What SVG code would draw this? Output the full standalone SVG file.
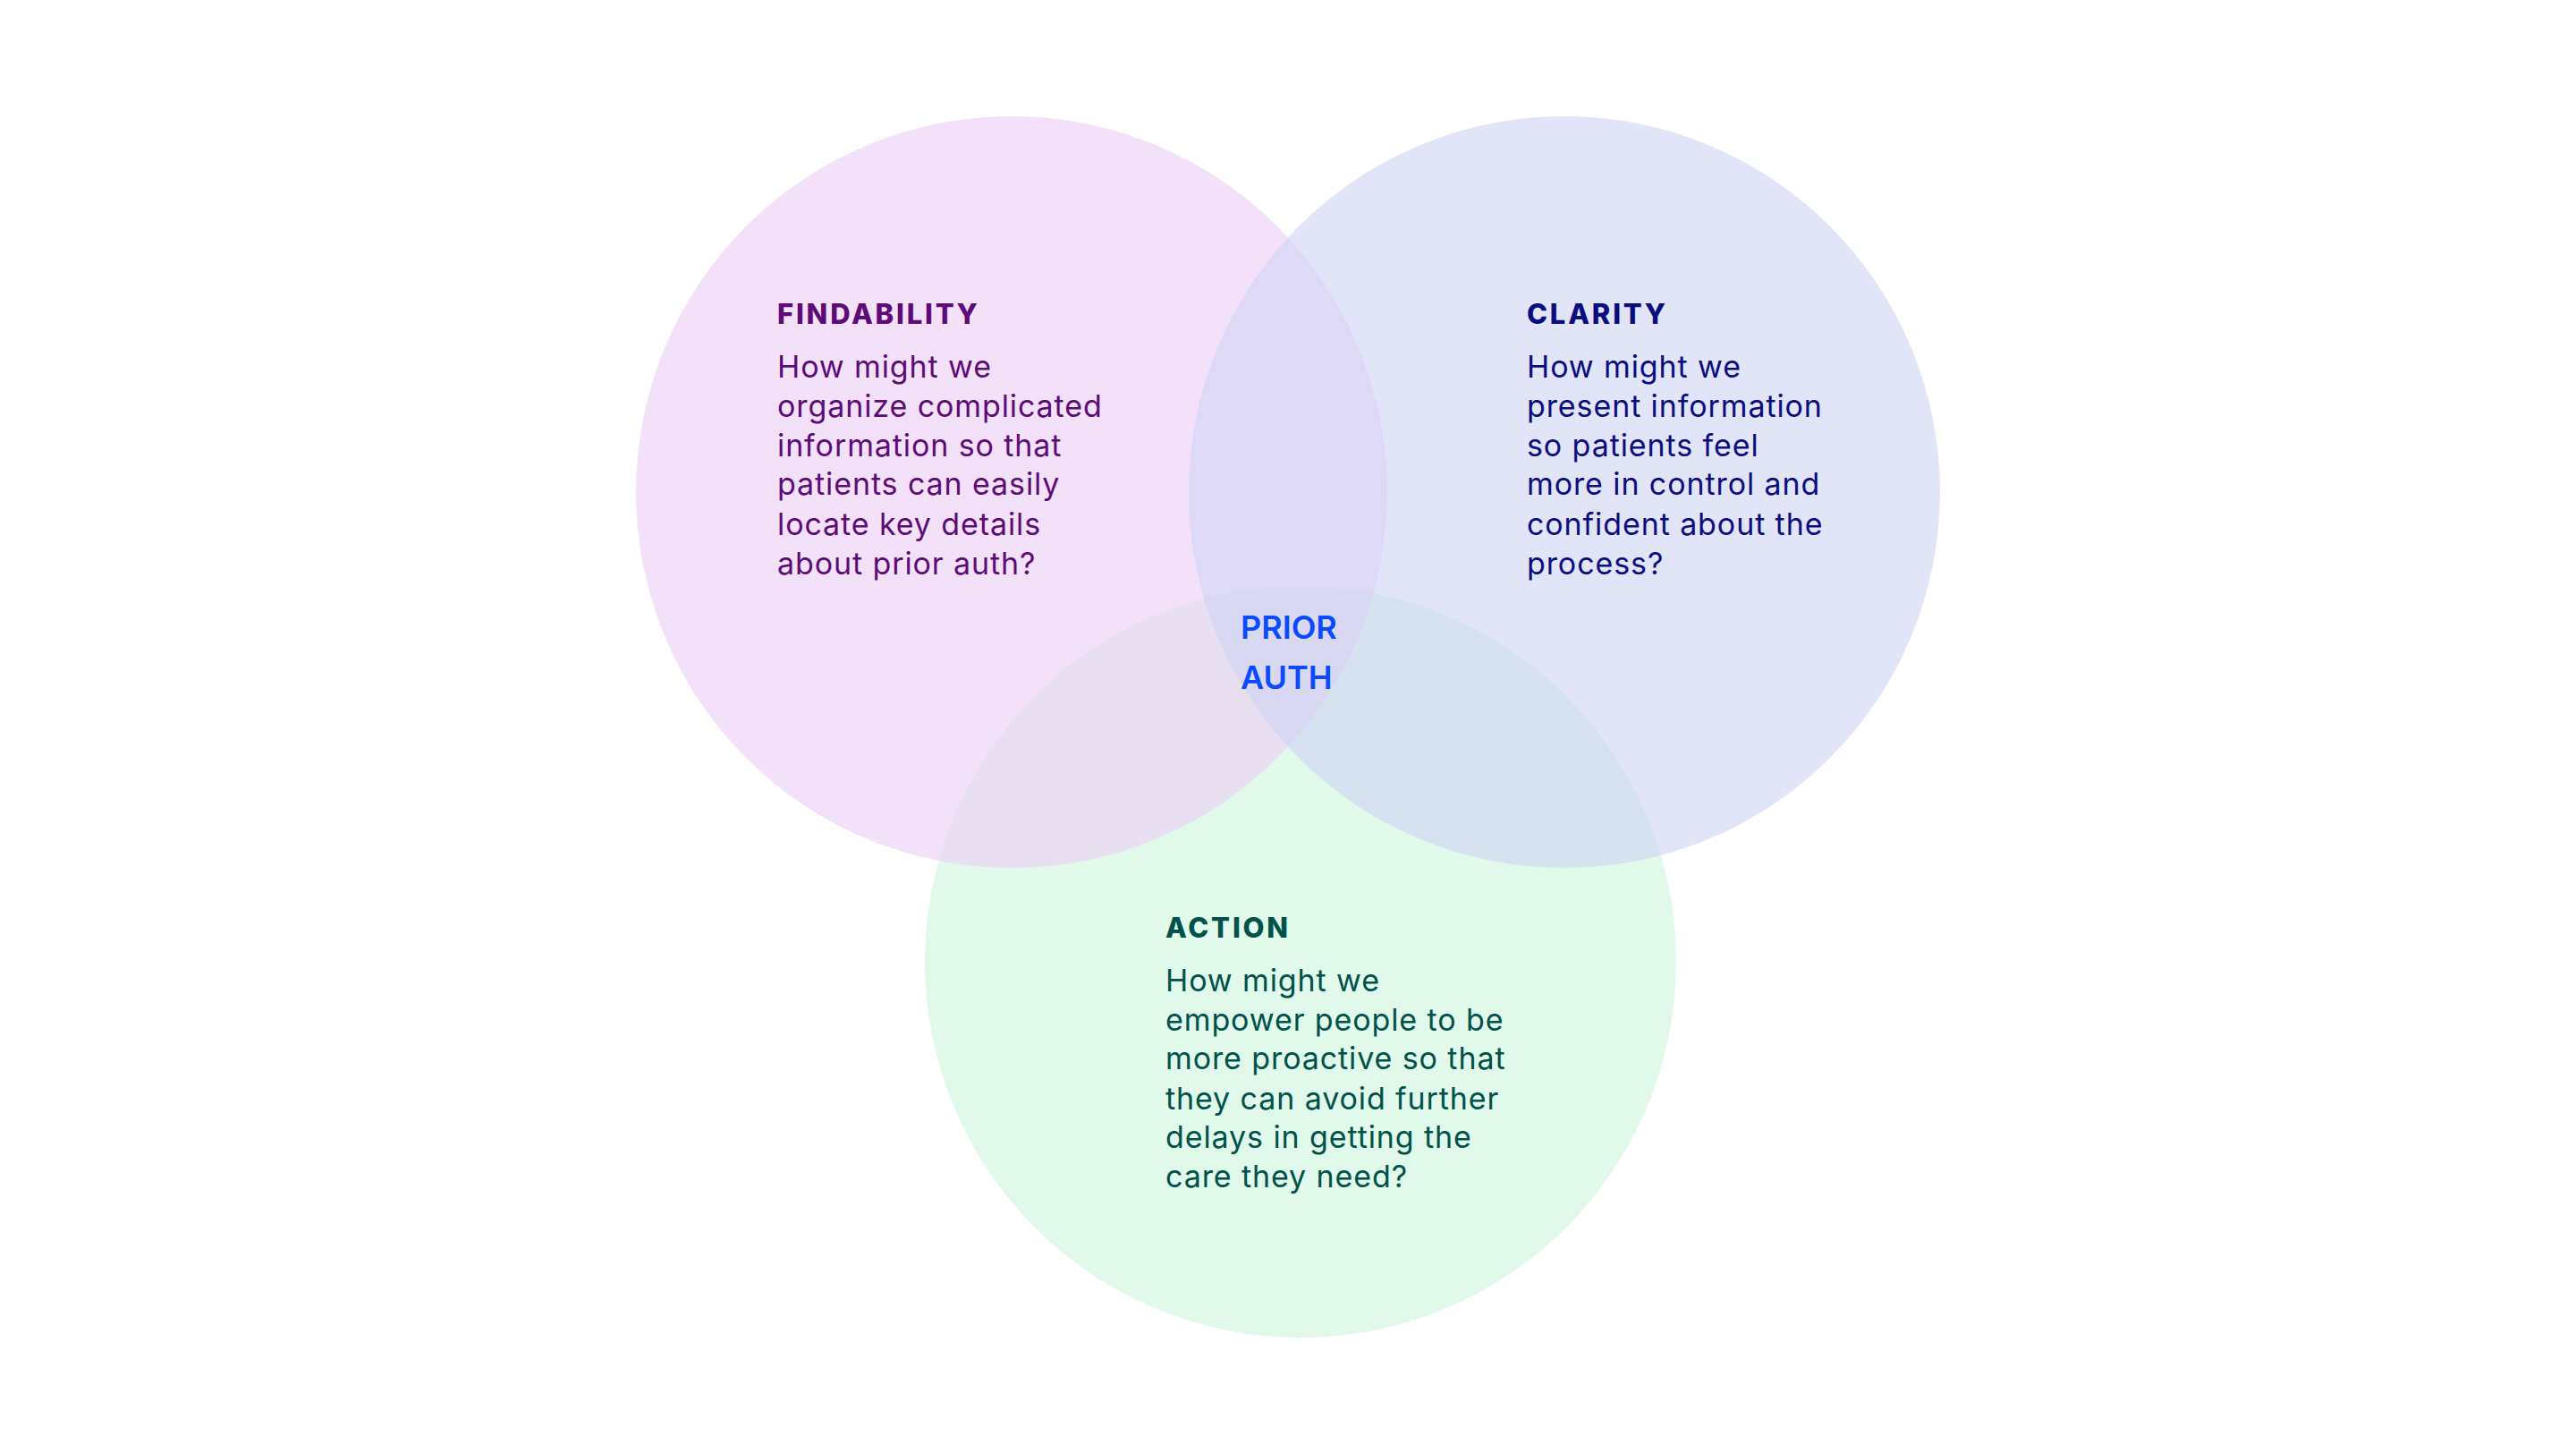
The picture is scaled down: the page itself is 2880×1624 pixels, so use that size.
<svg xmlns="http://www.w3.org/2000/svg" width="2880" height="1624" viewBox="0 0 2880 1624">
  <style>
    .head { font-family: Inter, "Noto Sans", "Liberation Sans", sans-serif; font-weight: 800; font-size: 31px; letter-spacing: 2.8px; }
    .body { font-family: Inter, "Noto Sans", "Liberation Sans", sans-serif; font-weight: 400; font-size: 34px; letter-spacing: 0.9px; }
    .center { font-family: Inter, "Noto Sans", "Liberation Sans", sans-serif; font-weight: 600; font-size: 36px; fill: #0A4BFF; }
    .purple { fill: #5E0B78; }
    .navy { fill: #0B0E7E; }
    .teal { fill: #00524A; }
  </style>
  <rect width="2880" height="1624" fill="#FFFFFF"/>
  <g id="action">
    <circle cx="1454" cy="1075" r="420" fill="#E1F9EA"/>
  </g>
  <g id="findability">
    <circle cx="1131" cy="550" r="420" fill="#ECCFF5" fill-opacity="0.62"/>
  </g>
  <g id="clarity">
    <circle cx="1749" cy="550" r="420" fill="#D0D3F4" fill-opacity="0.62"/>
  </g>
  <g id="connectors"></g>
  <g id="findability-text">
    <text class="head purple" x="869" y="362">FINDABILITY</text>
    <text class="body purple" x="869" y="422">How might we</text>
    <text class="body purple" x="869" y="466">organize complicated</text>
    <text class="body purple" x="869" y="510">information so that</text>
    <text class="body purple" x="869" y="553">patients can easily</text>
    <text class="body purple" x="869" y="598">locate key details</text>
    <text class="body purple" x="869" y="642">about prior auth?</text>
  </g>
  <g id="clarity-text">
    <text class="head navy" x="1707" y="362">CLARITY</text>
    <text class="body navy" x="1707" y="422">How might we</text>
    <text class="body navy" x="1707" y="466">present information</text>
    <text class="body navy" x="1707" y="510">so patients feel</text>
    <text class="body navy" x="1707" y="553">more in control and</text>
    <text class="body navy" x="1707" y="598">confident about the</text>
    <text class="body navy" x="1707" y="642">process?</text>
  </g>
  <g id="action-text">
    <text class="head teal" x="1303" y="1048">ACTION</text>
    <text class="body teal" x="1303" y="1108">How might we</text>
    <text class="body teal" x="1303" y="1152">empower people to be</text>
    <text class="body teal" x="1303" y="1195">more proactive so that</text>
    <text class="body teal" x="1303" y="1240">they can avoid further</text>
    <text class="body teal" x="1303" y="1283">delays in getting the</text>
    <text class="body teal" x="1303" y="1327">care they need?</text>
  </g>
  <g id="prior-auth">
    <text class="center" x="1387" y="714">PRIOR</text>
    <text class="center" x="1387" y="770">AUTH</text>
  </g>
</svg>
